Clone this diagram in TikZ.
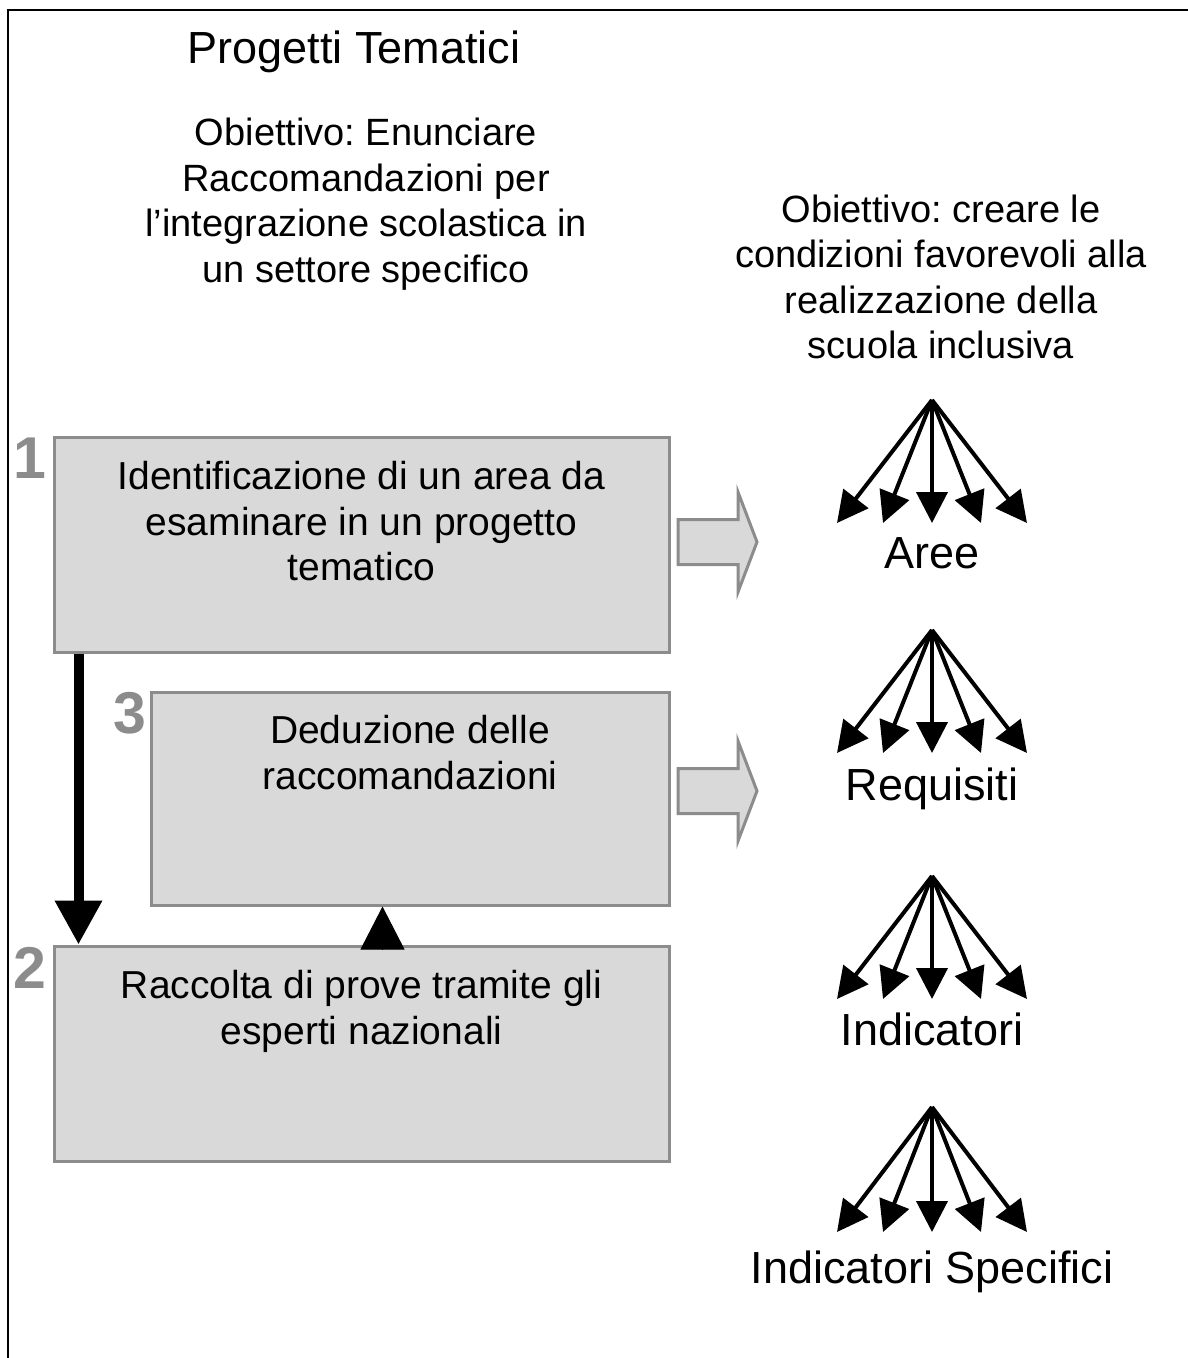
\documentclass[tikz,border=0pt]{standalone}
\usepackage{fontspec}
\setmainfont{Liberation Sans}
\usetikzlibrary{arrows.meta,calc,positioning}

\definecolor{boxgray}{HTML}{D9D9D9}
\definecolor{linegray}{HTML}{8C8C8C}

\begin{document}
\frenchspacing
\begin{tikzpicture}[%
x=1pt, y=-1pt,
box/.style={rectangle, draw=linegray, fill=boxgray, line width=3pt, inner sep=0pt},
boxtext/.style={align=center, inner sep=0pt, font=\fontsize{39}{45.5}\selectfont},
goaltext/.style={align=center, inner sep=0pt, font=\fontsize{38}{45.5}\selectfont},
bigtext/.style={inner sep=0pt, font=\fontsize{45}{52}\selectfont},
num/.style={text=linegray, inner sep=0pt, font=\fontsize{59}{59}\selectfont\bfseries},
fan/.style={line width=4pt, -{Triangle[length=31pt,width=31pt]}},
blockarr/.style={draw=linegray, fill=boxgray, line width=3pt}
]
\useasboundingbox (0,0) rectangle (1188,1358);
\draw[line width=2.5pt] (8,1400) -- (8,10) -- (1220,10);

\node[bigtext] (title) at (354,52) {Progetti Tematici};
\node[goaltext] (goalL) at (366,204) {Obiettivo: Enunciare\\Raccomandazioni per\\l’integrazione scolastica in\\un settore specifico};
\node[goaltext] (goalR) at (941,277) {Obiettivo: creare le\\condizioni favorevoli alla\\realizzazione della\\scuola inclusiva};

% the three steps
\node[box, minimum width=615pt, minimum height=215pt] (box1) at (361.5,544.5) {};
\node[box, minimum width=518pt, minimum height=213pt] (box3) at (410,798.5) {};
\node[box, minimum width=615pt, minimum height=215pt] (box2) at (361.5,1053.5) {};
\node[boxtext, below=26pt of box1.north] (t1) {Identificazione di un area da\\esaminare in un progetto\\tematico};
\node[boxtext, below=25pt of box3.north] (t3) {Deduzione delle\\raccomandazioni};
\node[boxtext, below=26pt of box2.north] (t2) {Raccolta di prove tramite gli\\esperti nazionali};
\node[num, anchor=north east] (n1) at ([xshift=-6pt, yshift=-2pt]box1.north west) {1};
\node[num, anchor=north east] (n3) at ([xshift=-3pt, yshift=-2pt]box3.north west) {3};
\node[num, anchor=north east] (n2) at ([xshift=-6pt, yshift=-3pt]box2.north west) {2};

\draw[line width=10pt, -{Triangle[length=44pt,width=45pt]}]
  ([xshift=26pt] box1.south west) -- ([xshift=26pt] box2.north west);
\draw[line width=1pt, -{Triangle[length=43pt,width=44pt]}]
  ([xshift=330pt, yshift=-5pt] box2.north west) -- ([xshift=233pt] box3.south west);

\draw[blockarr, shift={(678,542)}] (0,-22.5) -- (60,-22.5) -- (60,-50) -- (79,0)
  -- (60,50) -- (60,22.5) -- (0,22.5) -- cycle;
\draw[blockarr, shift={(678,791)}] (0,-22.5) -- (60,-22.5) -- (60,-50) -- (79,0)
  -- (60,50) -- (60,22.5) -- (0,22.5) -- cycle;

% fan: Aree
\coordinate (f1) at (932,400);
\coordinate[below left=123pt and 95pt of f1] (f1a);
\coordinate[below left=123pt and 49pt of f1] (f1b);
\coordinate[below=123pt of f1] (f1c);
\coordinate[below right=123pt and 49pt of f1] (f1d);
\coordinate[below right=123pt and 95pt of f1] (f1e);
\node[bigtext, below=137pt of f1] (aree) {Aree};
\path[fan] (f1) edge (f1a) edge (f1b) edge (f1c) edge (f1d) edge (f1e);

% fan: Requisiti
\coordinate (f2) at (932,630);
\coordinate[below left=123pt and 95pt of f2] (f2a);
\coordinate[below left=123pt and 49pt of f2] (f2b);
\coordinate[below=123pt of f2] (f2c);
\coordinate[below right=123pt and 49pt of f2] (f2d);
\coordinate[below right=123pt and 95pt of f2] (f2e);
\node[bigtext, below=138pt of f2] (requisiti) {Requisiti};
\path[fan] (f2) edge (f2a) edge (f2b) edge (f2c) edge (f2d) edge (f2e);

% fan: Indicatori
\coordinate (f3) at (932,876);
\coordinate[below left=123pt and 95pt of f3] (f3a);
\coordinate[below left=123pt and 49pt of f3] (f3b);
\coordinate[below=123pt of f3] (f3c);
\coordinate[below right=123pt and 49pt of f3] (f3d);
\coordinate[below right=123pt and 95pt of f3] (f3e);
\node[bigtext, below=137pt of f3] (indicatori) {Indicatori};
\path[fan] (f3) edge (f3a) edge (f3b) edge (f3c) edge (f3d) edge (f3e);

% fan: Indicatori Specifici
\coordinate (f4) at (932,1107);
\coordinate[below left=125pt and 95pt of f4] (f4a);
\coordinate[below left=125pt and 49pt of f4] (f4b);
\coordinate[below=125pt of f4] (f4c);
\coordinate[below right=125pt and 49pt of f4] (f4d);
\coordinate[below right=125pt and 95pt of f4] (f4e);
\node[bigtext, below=144pt of f4] (specifici) {Indicatori Specifici};
\path[fan] (f4) edge (f4a) edge (f4b) edge (f4c) edge (f4d) edge (f4e);

\end{tikzpicture}
\end{document}
